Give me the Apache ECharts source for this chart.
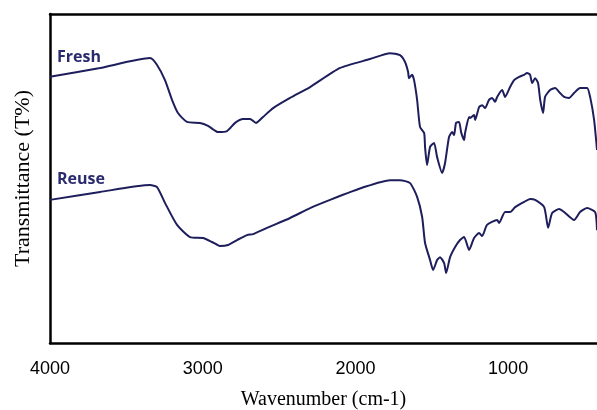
<!DOCTYPE html>
<html>
<head>
<meta charset="utf-8">
<style>html,body{margin:0;padding:0;background:#fff;}#c{width:597px;height:410px;}</style>
<script src="https://cdn.jsdelivr.net/npm/echarts@6/dist/echarts.min.js"></script>
</head>
<body>
<div id="c"></div>
<script>
// Wavenumber (cm-1) and transmittance (arbitrary %)
const freshWn = [4000,3672,3345,3299,3247,3201,3162,3103,3018,2965,2900,2841,2788,2736,2690,2651,2605,2539,2428,2297,2100,1904,1773,1708,1675,1655,1649,1629,1616,1596,1577,1550,1544,1531,1511,1485,1465,1432,1413,1387,1367,1354,1341,1321,1308,1288,1282,1256,1249,1223,1216,1190,1170,1151,1125,1105,1085,1072,1039,1020,987,961,928,895,876,856,843,823,804,790,771,758,725,692,660,633,601,568,529,483,463,437,418];
const freshT  = [80.9,83.6,86.6,84.5,79.9,73.9,69.9,67.2,66.9,66.0,64.1,64.4,66.9,68.1,68.1,66.9,68.7,71.4,74.5,77.8,83.6,86.3,88.1,87.5,85.4,82.4,80.5,81.5,79.9,73.9,65.7,63.8,59.6,54.1,59.6,60.8,56.5,51.7,54.7,62.6,64.1,63.2,66.9,67.2,64.1,61.7,63.8,68.7,68.4,69.3,67.8,71.7,72.3,71.4,73.9,74.5,73.3,74.8,76.9,74.8,77.8,79.9,80.9,81.5,82.1,81.5,79.0,80.5,79.0,73.9,69.9,74.8,76.9,77.5,76.0,74.8,74.5,76.0,77.5,77.5,74.8,67.8,58.7];
const reuseWn = [4000,3672,3345,3299,3247,3168,3083,2998,2939,2887,2834,2775,2710,2670,2579,2428,2297,2166,1943,1773,1708,1642,1596,1563,1544,1511,1491,1465,1446,1419,1406,1380,1347,1315,1288,1256,1223,1190,1170,1138,1072,1059,1020,987,954,895,856,823,764,738,712,666,633,568,529,483,430,418];
const reuseT  = [43.5,45.9,48.0,47.4,42.6,35.9,32.2,31.9,30.7,29.5,29.8,31.3,32.8,33.1,35.0,38.0,41.0,43.5,47.4,49.5,49.5,48.6,44.4,38.3,30.4,25.2,22.2,25.2,26.1,24.3,21.3,26.1,29.2,31.3,32.2,28.3,31.9,33.4,32.5,35.9,37.4,36.5,39.8,39.8,41.3,42.9,43.8,43.5,41.3,35.0,39.5,40.7,39.8,37.4,39.8,41.0,39.8,34.3];
const xTicks = [4000,3000,2000,1000];
const seriesNames = ['Fresh','Reuse'];

const zip = (a,b) => a.map((v,i)=>[v,b[i]]);
const chart = echarts.init(document.getElementById('c'));
const lineColor = '#1e1e5c';
chart.setOption({
  animation:false,
  grid:{left:50,right:0,top:14,bottom:67,containLabel:false,outerBoundsMode:'none'},
  xAxis:[{
    type:'value', min:418, max:4000, inverse:true,
    axisLine:{show:true,onZero:false,lineStyle:{color:'#000',width:2.5}},
    axisTick:{show:false}, splitLine:{show:false},
    axisLabel:{customValues:xTicks, formatter:v=>String(v), color:'#000', fontFamily:'Liberation Sans', fontSize:18, margin:17},
    name:'Wavenumber (cm-1)', nameLocation:'middle', nameGap:47,
    nameTextStyle:{color:'#000', fontFamily:'Liberation Serif', fontSize:20}
  },{
    type:'value', min:418, max:4000, inverse:true, position:'top',
    axisLine:{show:true,onZero:false,lineStyle:{color:'#000',width:2.5}},
    axisTick:{show:false}, splitLine:{show:false}, axisLabel:{show:false}
  }],
  yAxis:{
    type:'value', min:0, max:100,
    axisLine:{show:true,onZero:false,lineStyle:{color:'#000',width:2.5}},
    axisTick:{show:false}, splitLine:{show:false}, axisLabel:{show:false},
    name:'Transmittance (T%)', nameLocation:'middle', nameGap:16, nameRotate:90,
    nameTextStyle:{color:'#000', fontFamily:'Liberation Serif', fontSize:22}
  },
  series:[
    {name:seriesNames[0], type:'line', showSymbol:false, smooth:0.2, data:zip(freshWn,freshT), lineStyle:{color:lineColor,width:2}, itemStyle:{color:lineColor}},
    {name:seriesNames[1], type:'line', showSymbol:false, smooth:0.2, data:zip(reuseWn,reuseT), lineStyle:{color:lineColor,width:2}, itemStyle:{color:lineColor}}
  ],
  graphic:[
    {type:'text', left:57, top:49, style:{text:seriesNames[0], fill:'#2a2a6e', font:'bold 16px "Open Sans"'}},
    {type:'text', left:57, top:171, style:{text:seriesNames[1], fill:'#2a2a6e', font:'bold 16px "Open Sans"'}}
  ]
});
</script>
</body>
</html>
